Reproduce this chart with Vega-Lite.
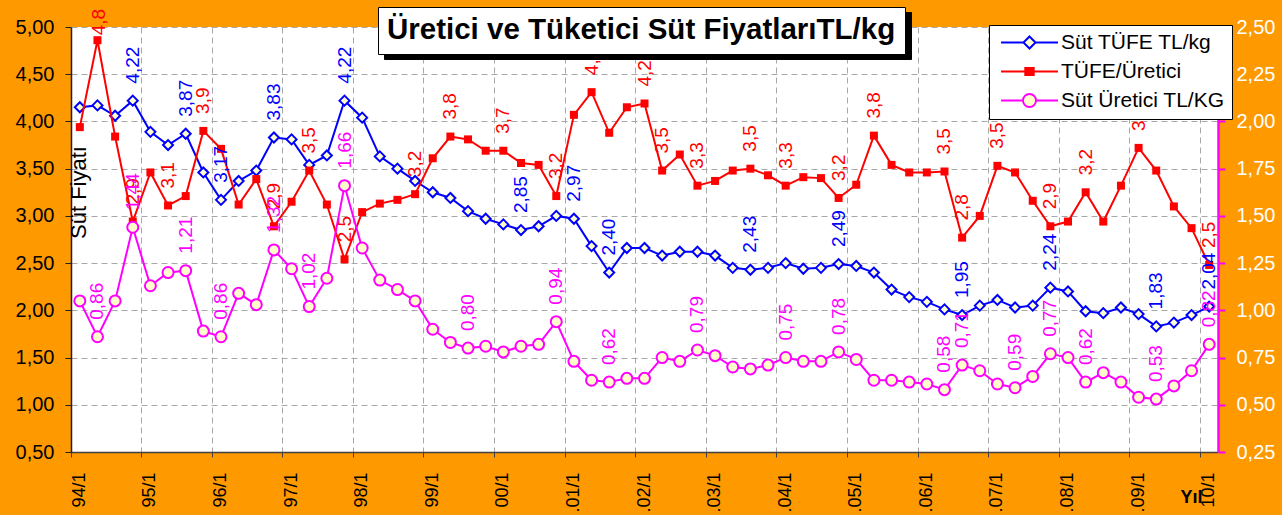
{
  "$schema": "https://vega.github.io/schema/vega-lite/v6.json",
  "width": 1147,
  "height": 425,
  "autosize": "none",
  "padding": {"left": 71, "top": 27, "right": 64, "bottom": 63},
  "background": "#FF9900",
  "config": {"font": "Liberation Sans", "view": {"stroke": null, "fill": "#FFFFFF"}},
  "datasets": {
    "blue": [
      {"q":"94/1","v":4.15},{"q":"94/2","v":4.17},{"q":"94/3","v":4.06},{"q":"94/4","v":4.22,"l":"4,22"},
      {"q":"95/1","v":3.89},{"q":"95/2","v":3.75},{"q":"95/3","v":3.87,"l":"3,87"},{"q":"95/4","v":3.46},
      {"q":"96/1","v":3.17,"l":"3,17"},{"q":"96/2","v":3.37},{"q":"96/3","v":3.48},{"q":"96/4","v":3.83,"l":"3,83"},
      {"q":"97/1","v":3.81},{"q":"97/2","v":3.54},{"q":"97/3","v":3.64},{"q":"97/4","v":4.22,"l":"4,22"},
      {"q":"98/1","v":4.04},{"q":"98/2","v":3.63},{"q":"98/3","v":3.50},{"q":"98/4","v":3.37},
      {"q":"99/1","v":3.25},{"q":"99/2","v":3.19},{"q":"99/3","v":3.05},{"q":"99/4","v":2.97},
      {"q":"00/1","v":2.91},{"q":"00/2","v":2.85,"l":"2,85"},{"q":"00/3","v":2.89},{"q":"00/4","v":3.00},
      {"q":".01/1","v":2.97,"l":"2,97"},{"q":".01/2","v":2.68},{"q":".01/3","v":2.40,"l":"2,40"},{"q":".01/4","v":2.66},
      {"q":".02/1","v":2.66},{"q":".02/2","v":2.58},{"q":".02/3","v":2.62},{"q":".02/4","v":2.62},
      {"q":".03/1","v":2.58},{"q":".03/2","v":2.45},{"q":".03/3","v":2.43,"l":"2,43"},{"q":".03/4","v":2.45},
      {"q":".04/1","v":2.50},{"q":".04/2","v":2.44},{"q":".04/3","v":2.45},{"q":".04/4","v":2.49,"l":"2,49"},
      {"q":".05/1","v":2.47},{"q":".05/2","v":2.40},{"q":".05/3","v":2.22},{"q":".05/4","v":2.14},
      {"q":".06/1","v":2.09},{"q":".06/2","v":2.01},{"q":".06/3","v":1.95,"l":"1,95"},{"q":".06/4","v":2.05},
      {"q":".07/1","v":2.11},{"q":".07/2","v":2.03},{"q":".07/3","v":2.05},{"q":".07/4","v":2.24,"l":"2,24"},
      {"q":".08/1","v":2.20},{"q":".08/2","v":1.99},{"q":".08/3","v":1.97},{"q":".08/4","v":2.03},
      {"q":".09/1","v":1.96},{"q":".09/2","v":1.83,"l":"1,83"},{"q":".09/3","v":1.87},{"q":".09/4","v":1.95},
      {"q":"10/1","v":2.04,"l":"2,04"}
    ],
    "red": [
      {"q":"94/1","v":3.94},{"q":"94/2","v":4.86,"l":"4,8"},{"q":"94/3","v":3.84},{"q":"94/4","v":2.94,"l":"2,9"},
      {"q":"95/1","v":3.46},{"q":"95/2","v":3.11,"l":"3,1"},{"q":"95/3","v":3.21},{"q":"95/4","v":3.90,"l":"3,9"},
      {"q":"96/1","v":3.71},{"q":"96/2","v":3.12},{"q":"96/3","v":3.39},{"q":"96/4","v":2.89,"l":"2,9"},
      {"q":"97/1","v":3.15},{"q":"97/2","v":3.48,"l":"3,5"},{"q":"97/3","v":3.12},{"q":"97/4","v":2.54,"l":"2,5"},
      {"q":"98/1","v":3.04},{"q":"98/2","v":3.13},{"q":"98/3","v":3.17},{"q":"98/4","v":3.23,"l":"3,2"},
      {"q":"99/1","v":3.61},{"q":"99/2","v":3.84,"l":"3,8"},{"q":"99/3","v":3.81},{"q":"99/4","v":3.69},
      {"q":"00/1","v":3.69,"l":"3,7"},{"q":"00/2","v":3.56},{"q":"00/3","v":3.54},{"q":"00/4","v":3.21,"l":"3,2"},
      {"q":".01/1","v":4.07},{"q":".01/2","v":4.31,"l":"4,3"},{"q":".01/3","v":3.88},{"q":".01/4","v":4.15},
      {"q":".02/1","v":4.19,"l":"4,2"},{"q":".02/2","v":3.48,"l":"3,5"},{"q":".02/3","v":3.65},{"q":".02/4","v":3.32,"l":"3,3"},
      {"q":".03/1","v":3.37},{"q":".03/2","v":3.48},{"q":".03/3","v":3.50,"l":"3,5"},{"q":".03/4","v":3.43},
      {"q":".04/1","v":3.32,"l":"3,3"},{"q":".04/2","v":3.41},{"q":".04/3","v":3.40},{"q":".04/4","v":3.19,"l":"3,2"},
      {"q":".05/1","v":3.33},{"q":".05/2","v":3.85,"l":"3,8"},{"q":".05/3","v":3.54},{"q":".05/4","v":3.46},
      {"q":".06/1","v":3.46},{"q":".06/2","v":3.47,"l":"3,5"},{"q":".06/3","v":2.77,"l":"2,8"},{"q":".06/4","v":3.00},
      {"q":".07/1","v":3.53,"l":"3,5"},{"q":".07/2","v":3.46},{"q":".07/3","v":3.16},{"q":".07/4","v":2.89,"l":"2,9"},
      {"q":".08/1","v":2.94},{"q":".08/2","v":3.25,"l":"3,2"},{"q":".08/3","v":2.94},{"q":".08/4","v":3.32},
      {"q":".09/1","v":3.72,"l":"3,7"},{"q":".09/2","v":3.48},{"q":".09/3","v":3.10},{"q":".09/4","v":2.87},
      {"q":"10/1","v":2.48,"l":"2,5"}
    ],
    "mag": [
      {"q":"94/1","v":1.05},{"q":"94/2","v":0.86,"l":"0,86"},{"q":"94/3","v":1.05},{"q":"94/4","v":1.44,"l":"1,44"},
      {"q":"95/1","v":1.13},{"q":"95/2","v":1.20},{"q":"95/3","v":1.21,"l":"1,21"},{"q":"95/4","v":0.89},
      {"q":"96/1","v":0.86,"l":"0,86"},{"q":"96/2","v":1.09},{"q":"96/3","v":1.03},{"q":"96/4","v":1.32,"l":"1,32"},
      {"q":"97/1","v":1.22},{"q":"97/2","v":1.02,"l":"1,02"},{"q":"97/3","v":1.17},{"q":"97/4","v":1.66,"l":"1,66"},
      {"q":"98/1","v":1.33},{"q":"98/2","v":1.16},{"q":"98/3","v":1.11},{"q":"98/4","v":1.05},
      {"q":"99/1","v":0.90},{"q":"99/2","v":0.83},{"q":"99/3","v":0.80,"l":"0,80"},{"q":"99/4","v":0.81},
      {"q":"00/1","v":0.78},{"q":"00/2","v":0.81},{"q":"00/3","v":0.82},{"q":"00/4","v":0.94,"l":"0,94"},
      {"q":".01/1","v":0.73},{"q":".01/2","v":0.63},{"q":".01/3","v":0.62,"l":"0,62"},{"q":".01/4","v":0.64},
      {"q":".02/1","v":0.64},{"q":".02/2","v":0.75},{"q":".02/3","v":0.73},{"q":".02/4","v":0.79,"l":"0,79"},
      {"q":".03/1","v":0.76},{"q":".03/2","v":0.70},{"q":".03/3","v":0.69},{"q":".03/4","v":0.71},
      {"q":".04/1","v":0.75,"l":"0,75"},{"q":".04/2","v":0.73},{"q":".04/3","v":0.73},{"q":".04/4","v":0.78,"l":"0,78"},
      {"q":".05/1","v":0.74},{"q":".05/2","v":0.63},{"q":".05/3","v":0.63},{"q":".05/4","v":0.62},
      {"q":".06/1","v":0.61},{"q":".06/2","v":0.58,"l":"0,58"},{"q":".06/3","v":0.71,"l":"0,71"},{"q":".06/4","v":0.68},
      {"q":".07/1","v":0.61},{"q":".07/2","v":0.59,"l":"0,59"},{"q":".07/3","v":0.65},{"q":".07/4","v":0.77,"l":"0,77"},
      {"q":".08/1","v":0.75},{"q":".08/2","v":0.62,"l":"0,62"},{"q":".08/3","v":0.67},{"q":".08/4","v":0.62},
      {"q":".09/1","v":0.54},{"q":".09/2","v":0.53,"l":"0,53"},{"q":".09/3","v":0.60},{"q":".09/4","v":0.68},
      {"q":"10/1","v":0.82,"l":"0,82"}
    ],
    "series": [
      {"s": "Süt TÜFE TL/kg"}, {"s": "TÜFE/Üretici"}, {"s": "Süt Üretici TL/KG"}
    ],
    "heading": [{"t": "h"}],
    "shade": [{"t": "k"}]
  },
  "layer": [
    {
      "encoding": {
        "x": {
          "field": "q", "type": "ordinal", "bandPosition": 0.5,
          "scale": {"type": "band", "paddingInner": 0, "paddingOuter": 0,
            "domain": ["94/1","94/2","94/3","94/4","95/1","95/2","95/3","95/4","96/1","96/2","96/3","96/4","97/1","97/2","97/3","97/4","98/1","98/2","98/3","98/4","99/1","99/2","99/3","99/4","00/1","00/2","00/3","00/4",".01/1",".01/2",".01/3",".01/4",".02/1",".02/2",".02/3",".02/4",".03/1",".03/2",".03/3",".03/4",".04/1",".04/2",".04/3",".04/4",".05/1",".05/2",".05/3",".05/4",".06/1",".06/2",".06/3",".06/4",".07/1",".07/2",".07/3",".07/4",".08/1",".08/2",".08/3",".08/4",".09/1",".09/2",".09/3",".09/4","10/1"]},
          "axis": {
            "orient": "bottom",
            "values": ["94/1","95/1","96/1","97/1","98/1","99/1","00/1",".01/1",".02/1",".03/1",".04/1",".05/1",".06/1",".07/1",".08/1",".09/1","10/1"],
            "bandPosition": 0, "labelAngle": -90, "labelAlign": "right", "labelBaseline": "middle",
            "labelFontSize": 18, "labelColor": "#000000", "labelPadding": 15,
            "tickSize": 5, "tickColor": "#404040", "domainColor": "#404040", "domainWidth": 1.5,
            "grid": true, "gridDash": [6, 4], "gridColor": "#A8A8A8",
            "title": "Yıl", "titleFontSize": 18, "titleFontWeight": "bold", "titleColor": "#000000",
            "titleAngle": 0, "titleAlign": "right", "titleBaseline": "alphabetic", "titleX": 1131, "titleY": 50
          }
        },
        "y": {"field": "v", "type": "quantitative",
          "scale": {"domain": [0.5, 5], "nice": false, "zero": false},
          "axis": {"orient": "left", "values": [0.5,1,1.5,2,2.5,3,3.5,4,4.5,5],
            "labelExpr": "replace(format(datum.value, '.2f'), '.', ',')",
            "labelFontSize": 20, "labelColor": "#000000", "labelPadding": 11,
            "tickSize": 6, "tickColor": "#202020", "domainColor": "#202020", "domainWidth": 1.5,
            "grid": true, "gridDash": [6, 4], "gridColor": "#A8A8A8",
            "title": "Süt Fiyatı", "titleAngle": -90, "titleX": -3, "titleY": 165, "titleAlign": "center", "titleBaseline": "top",
            "titleFontSize": 22, "titleFontWeight": "normal", "titleColor": "#000000"}
        }
      },
      "layer": [
        {"data": {"name": "blue"}, "mark": {"type": "line", "strokeWidth": 2, "color": "#0000FF"}},
        {"data": {"name": "blue"}, "mark": {"type": "point", "shape": "diamond", "filled": true, "fill": "#FFFFCC", "stroke": "#0000FF", "strokeWidth": 2, "size": 100, "opacity": 1}},
        {"data": {"name": "red"}, "mark": {"type": "line", "strokeWidth": 2, "color": "#FF0000"}},
        {"data": {"name": "red"}, "mark": {"type": "square", "color": "#FF0000", "size": 64, "opacity": 1}},
        {"data": {"name": "blue"}, "transform": [{"filter": "isValid(datum.l)"}],
          "mark": {"type": "text", "angle": -90, "align": "left", "baseline": "middle", "dx": 17, "fontSize": 19, "color": "#0000FF"},
          "encoding": {"text": {"field": "l"}}},
        {"data": {"name": "red"}, "transform": [{"filter": "isValid(datum.l) && datum.v < 4.6"}],
          "mark": {"type": "text", "angle": -90, "align": "left", "baseline": "middle", "dx": 17, "fontSize": 19, "color": "#FF0000"},
          "encoding": {"text": {"field": "l"}}},
        {"data": {"name": "red"}, "transform": [{"filter": "isValid(datum.l) && datum.v >= 4.6"}],
          "mark": {"type": "text", "angle": -90, "align": "left", "baseline": "middle", "dx": 5, "dy": 2, "fontSize": 19, "color": "#FF0000"},
          "encoding": {"text": {"field": "l"}}},
        {"data": {"name": "series"},
          "mark": {"type": "point", "opacity": 0, "filled": true},
          "encoding": {
            "stroke": {"field": "s", "type": "nominal",
              "scale": {"domain": ["Süt TÜFE TL/kg", "TÜFE/Üretici", "Süt Üretici TL/KG"], "range": ["#0000FF", "#FF0000", "#FF00FF"]},
              "legend": {"title": null, "orient": "none", "legendX": 918, "legendY": -2, "direction": "vertical",
                "fillColor": "#FFFFFF", "strokeColor": "#000000", "padding": 7,
                "symbolSize": 196, "symbolOffset": 23, "labelOffset": 21, "symbolOpacity": 1, "symbolStrokeWidth": 2,
                "labelFontSize": 21, "labelFont": "Liberation Sans", "labelColor": "#000000", "labelLimit": 400, "rowPadding": 7}},
            "fill": {"field": "s", "type": "nominal",
              "scale": {"domain": ["Süt TÜFE TL/kg", "TÜFE/Üretici", "Süt Üretici TL/KG"], "range": ["#FFFFCC", "#FF0000", "#FFFFCC"]},
              "legend": {"title": null, "orient": "none", "legendX": 918, "legendY": -2, "direction": "vertical",
                "fillColor": "#FFFFFF", "strokeColor": "#000000", "padding": 7,
                "symbolSize": 196, "symbolOffset": 23, "labelOffset": 21, "symbolOpacity": 1, "symbolStrokeWidth": 2,
                "labelFontSize": 21, "labelFont": "Liberation Sans", "labelColor": "#000000", "labelLimit": 400, "rowPadding": 7}},
            "shape": {"field": "s", "type": "nominal",
              "scale": {"domain": ["Süt TÜFE TL/kg", "TÜFE/Üretici", "Süt Üretici TL/KG"],
                "range": ["M-4.07,0H-0.86M0.86,0H4.07M0,-0.86L0.86,0L0,0.86L-0.86,0Z", "M-4.07,0H4.07M-0.6,-0.5H0.6V0.5H-0.6Z", "M-4.07,0H-0.93M0.93,0H4.07M0.93,0A0.93,0.93 0 1,1 -0.93,0A0.93,0.93 0 1,1 0.93,0Z"]},
              "legend": {"title": null, "orient": "none", "legendX": 918, "legendY": -2, "direction": "vertical",
                "fillColor": "#FFFFFF", "strokeColor": "#000000", "padding": 7,
                "symbolSize": 196, "symbolOffset": 23, "labelOffset": 21, "symbolOpacity": 1, "symbolStrokeWidth": 2,
                "labelFontSize": 21, "labelFont": "Liberation Sans", "labelColor": "#000000", "labelLimit": 400, "rowPadding": 7}}
          }},
        {"data": {"name": "shade"},
          "mark": {"type": "point", "opacity": 0},
          "encoding": {
            "size": {"field": "t", "type": "nominal",
              "legend": {"title": "Üretici ve Tüketici Süt FiyatlarıTL/kg", "orient": "none", "legendX": 313, "legendY": -15,
                "titleFont": "Liberation Sans", "titleFontSize": 29.5, "titleFontWeight": "bold", "titleColor": "#000000",
                "titleLimit": 1000, "titlePadding": 8,
                "fillColor": "#000000", "strokeColor": "#000000", "padding": 9,
                "symbolSize": 0, "symbolOpacity": 0, "symbolStrokeWidth": 0,
                "labelExpr": "''", "labelFontSize": 1, "rowPadding": 0}}
          }},
        {"data": {"name": "heading"},
          "mark": {"type": "point", "opacity": 0},
          "encoding": {
            "strokeDash": {"field": "t", "type": "nominal",
              "legend": {"title": "Üretici ve Tüketici Süt FiyatlarıTL/kg", "orient": "none", "legendX": 307, "legendY": -20,
                "titleFont": "Liberation Sans", "titleFontSize": 29.5, "titleFontWeight": "bold", "titleColor": "#000000",
                "titleLimit": 1000, "titlePadding": 8,
                "fillColor": "#FFFFFF", "strokeColor": "#000000", "padding": 9,
                "symbolSize": 0, "symbolOpacity": 0, "symbolStrokeWidth": 0,
                "labelExpr": "''", "labelFontSize": 1, "rowPadding": 0}}
          }}
      ]
    },
    {
      "data": {"name": "mag"},
      "encoding": {
        "x": {
          "field": "q", "type": "ordinal", "bandPosition": 0.5,
          "scale": {"type": "band", "paddingInner": 0, "paddingOuter": 0,
            "domain": ["94/1","94/2","94/3","94/4","95/1","95/2","95/3","95/4","96/1","96/2","96/3","96/4","97/1","97/2","97/3","97/4","98/1","98/2","98/3","98/4","99/1","99/2","99/3","99/4","00/1","00/2","00/3","00/4",".01/1",".01/2",".01/3",".01/4",".02/1",".02/2",".02/3",".02/4",".03/1",".03/2",".03/3",".03/4",".04/1",".04/2",".04/3",".04/4",".05/1",".05/2",".05/3",".05/4",".06/1",".06/2",".06/3",".06/4",".07/1",".07/2",".07/3",".07/4",".08/1",".08/2",".08/3",".08/4",".09/1",".09/2",".09/3",".09/4","10/1"]},
          "axis": null
        },
        "y": {"field": "v", "type": "quantitative",
          "scale": {"domain": [0.25, 2.5], "nice": false, "zero": false},
          "axis": {"orient": "right", "values": [0.25,0.5,0.75,1,1.25,1.5,1.75,2,2.25,2.5],
            "labelExpr": "replace(format(datum.value, '.2f'), '.', ',')",
            "labelFontSize": 20, "labelColor": "#FFFFFF", "labelPadding": 11,
            "tickSize": 7, "tickWidth": 2, "tickColor": "#FF00FF", "domainColor": "#FF00FF", "domainWidth": 2.5,
            "grid": false, "title": null}
        }
      },
      "layer": [
        {"mark": {"type": "line", "strokeWidth": 2, "color": "#FF00FF"}},
        {"mark": {"type": "point", "shape": "circle", "filled": true, "fill": "#FFFFCC", "stroke": "#FF00FF", "strokeWidth": 2, "size": 121, "opacity": 1}},
        {"transform": [{"filter": "isValid(datum.l)"}],
          "mark": {"type": "text", "angle": -90, "align": "left", "baseline": "middle", "dx": 17, "fontSize": 19, "color": "#FF00FF"},
          "encoding": {"text": {"field": "l"}}}
      ]
    }
  ],
  "resolve": {"scale": {"y": "independent"}, "axis": {"x": "independent"}}
}
